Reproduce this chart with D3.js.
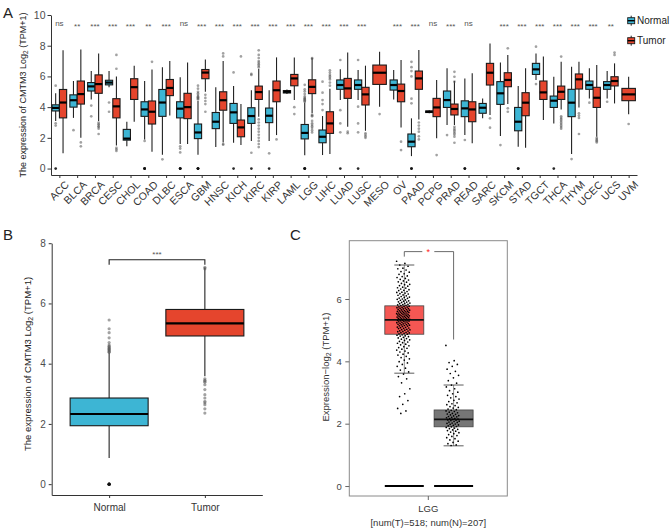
<!DOCTYPE html>
<html><head><meta charset="utf-8">
<script src="https://cdn.jsdelivr.net/npm/d3@7"></script>
<style>body{margin:0;background:#fff} svg{font-family:"Liberation Sans",Arial,sans-serif}</style>
</head><body><svg id="c" width="670" height="530"></svg>
<script>
// ---------- Panel A data ----------
const cancers = ["ACC","BLCA","BRCA","CESC","CHOL","COAD","DLBC","ESCA","GBM","HNSC","KICH","KIRC","KIRP","LAML","LGG","LIHC","LUAD","LUSC","MESO","OV","PAAD","PCPG","PRAD","READ","SARC","SKCM","STAD","TGCT","THCA","THYM","UCEC","UCS","UVM"];
const sigLabels = ["ns","**","***","***","***","**","***","ns","***","***","***","***","***","***","***","***","***","***","","***","***","ns","***","ns","","***","***","***","***","***","***","**",""];
// [lower whisker, Q1, median, Q3, upper whisker]
const normalStats = [
 [3.1,3.75,3.95,4.15,4.9],[3.3,4.0,4.45,4.8,5.7],[4.5,5.05,5.35,5.6,6.35],[5.3,5.45,5.6,5.75,6.35],
 [1.45,1.85,1.95,2.55,3.05],[1.9,3.4,3.85,4.35,5.7],[0.9,3.4,4.3,5.15,6.6],[1.6,3.3,3.9,4.35,5.95],
 [0.9,1.95,2.35,2.9,4.4],[1.4,2.6,3.05,3.65,5.3],[1.68,2.94,3.66,4.24,5.37],[1.8,2.94,3.42,3.96,5.1],
 [1.8,2.99,3.44,3.94,5.1],[4.85,4.92,5.0,5.08,5.15],[0.87,1.93,2.32,2.87,4.3],[0.88,1.68,2.07,2.51,3.42],
 [4.46,5.16,5.44,5.77,6.46],[4.46,5.16,5.44,5.77,6.42],null,[4.5,5.11,5.44,5.77,6.42],
 [0.81,1.42,1.75,2.25,3.27],[3.6,3.65,3.7,3.75,3.8],[2.83,3.98,4.46,5.05,6.53],[2.18,3.38,3.92,4.41,5.87],
 [3.27,3.6,3.96,4.24,4.57],[2.12,4.18,4.9,5.66,6.9],[1.42,2.46,3.05,3.98,5.37],[5.77,6.13,6.46,6.85,7.5],
 [2.94,3.98,4.42,4.72,5.98],[0.94,3.38,4.29,5.16,6.63],[4.57,5.16,5.44,5.7,6.53],[4.57,5.16,5.44,5.66,6.35],null];
const normalOutliers = [
 [5.4,2.95,2.8,0],[2.5],[4.1,3.4],[4.3,3.7],[],[1.8,0,0,0],[0.6],[1.45,1.3,1.05,0,0,0],
 [5.4,5.2,5.0,4.9,4.8,4.7,4.65,4.6,4.55,4.5,0,0,0],[],[6.26,0],[6.16,6.1,1.03,0],[0.99,0],[],
 [5.45,5.16,5.03,4.86,4.7,4.6,4.55,4.5,4.45,4.4,4.35,0,0,0],[5.66,4.94,4.46,4.2,3.81],[7.07,3.8,2.94,2.36,0],[7.07,4.03,2.94,2.36,0],
 [],[],[6.95,6.6,6.35,6.0,4.55,4.25,0,0],[],[2.18],[1.86,0,0],[],[1.53],[0,0],[7.94,5.5],[0],[0.62],[4.29],[4.35],[]];
const tumorStats = [
 [1.0,3.3,4.3,5.15,7.7],[2.0,4.2,4.85,5.7,7.75],[3.1,4.9,5.5,6.1,7.5],[1.5,3.3,4.05,4.55,6.0],
 [3.05,4.5,5.3,5.85,6.7],[1.1,2.9,3.7,4.4,6.45],[3.45,4.75,5.25,5.8,7.0],[1.6,3.25,4.0,4.9,6.9],
 [5.0,5.85,6.25,6.45,7.1],[1.7,3.8,4.45,5.0,7.0],[1.53,2.07,2.68,3.16,4.2],[3.38,4.5,4.98,5.37,6.5],
 [2.18,4.35,5.1,5.7,7.24],[4.46,5.39,5.87,6.13,7.24],[3.6,4.88,5.32,5.78,7.2],[0.94,2.29,2.94,3.7,5.2],
 [2.72,4.57,5.22,5.87,7.55],[2.46,4.14,4.83,5.29,6.7],[4.03,5.48,6.24,6.74,7.61],[2.68,4.35,5.05,5.5,7.07],
 [3.2,5.16,5.87,6.35,7.72],[1.97,3.38,3.98,4.57,5.77],[2.83,3.49,3.88,4.2,5.7],[1.64,3.05,3.85,4.35,6.2],
 [3.49,5.44,6.24,6.85,8.15],[4.2,5.33,5.77,6.24,7.39],[1.36,3.44,4.29,4.94,6.53],[3.16,4.5,4.96,5.7,7.29],
 [3.85,4.5,5.0,5.37,6.96],[3.98,5.18,5.81,6.16,6.96],[2.07,3.98,4.61,5.29,6.74],[4.24,5.38,5.7,5.98,6.85],[3.53,4.42,4.83,5.22,5.98]];
const tumorOutliers = [
 [],[1.7,1.45],[3.0,2.9,2.85,2.75,2.7,2.6,2.25],[7.4,6.5,1.35,1.25,1.15],[],[6.95],[],[],
 [4.8,4.6,4.4,4.2,3.7],[7.5,7.3,1.6,1.55],[7.3],[7.7,7.4,7.2,7.0,6.9,6.8,6.7,6.6,3.2,3.0,2.8,2.6,2.4,2.2,2.0,1.8,1.6,1.4],
 [1.9],[4.0,3.55],[7.2,7.15,3.5,3.45,3.4,3.1,2.95,2.85,2.75,2.65,2.5,2.35],[6.4,6.25,6.1,6.0,5.9,5.8,5.6,5.4],
 [2.4,2.3],[2.3,2.2,2.1,2.0],[3.55],[1.75,1.2],[3.0,2.8,2.6,2.4,2.1,1.9],[0.88],
 [6.3,5.98,5.66,2.72,2.6,2.5,2.4,2.3,2.2,2.07,1.68],[],[3.27,2.66],[7.83,3.92,3.7],[],[],
 [7.29,3.4,3.3,3.2,3.1,3.0,2.9,2.8,2.7,2.6],[3.6,3.45,3.3,2.25],[2.0,1.92,1.85,1.78,1.7],[7.55,7.4],[2.9]];
const groups = ["Normal","Tumor"];
const yTicksA = [0,2,4,6,8,10];

// ---------- Panel B data (LGG, TCGA+GTEx) ----------
const bGroups = ["Normal","Tumor"];
const bStats = [[0.87,1.94,2.33,2.86,4.36],[3.58,4.92,5.34,5.8,7.19]];
const bOutliers = [
 [5.45,5.16,5.03,4.86,4.7,4.62,4.58,4.55,4.52,4.5,4.47,4.45,4.42,4.4,4.38,0,0,0],
 [7.2,7.15,3.5,3.45,3.42,3.38,3.3,3.14,2.97,2.86,2.75,2.7,2.64,2.5,2.36]];
const bTicks = [0,2,4,6,8];

// ---------- Panel C data (GEPIA, LGG) ----------
const cCategory = ["LGG"];
const cTumorStats = [3.62,4.87,5.33,5.78,7.09];
const cNormalStats = [1.29,1.9,2.14,2.44,3.24];
const cTicks = [0,2,4,6];
const cTumorPoints = [7.21,7.14,7.09,7.05,6.99,6.97,6.93,6.88,6.86,6.81,6.79,6.74,6.72,6.69,6.66,6.63,6.61,6.58,6.55,6.54,6.5,6.47,6.46,6.43,6.41,6.38,6.36,6.35,6.32,6.3,6.28,6.27,6.24,6.22,6.21,6.19,6.17,6.16,6.13,6.12,6.1,6.08,6.06,6.05,6.03,6.02,6.0,5.99,5.97,5.96,5.94,5.93,5.91,5.9,5.89,5.87,5.86,5.85,5.83,5.82,5.81,5.8,5.79,5.77,5.76,5.75,5.74,5.73,5.72,5.71,5.7,5.69,5.68,5.67,5.66,5.65,5.64,5.63,5.62,5.61,5.6,5.6,5.59,5.58,5.57,5.56,5.55,5.55,5.54,5.53,5.52,5.51,5.5,5.5,5.49,5.48,5.47,5.46,5.45,5.45,5.44,5.43,5.42,5.41,5.4,5.4,5.39,5.38,5.37,5.36,5.35,5.35,5.34,5.33,5.32,5.31,5.3,5.3,5.29,5.28,5.27,5.26,5.25,5.24,5.23,5.22,5.21,5.2,5.19,5.18,5.17,5.16,5.15,5.14,5.13,5.12,5.1,5.09,5.08,5.07,5.06,5.05,5.03,5.02,5.01,5.0,4.98,4.97,4.96,4.95,4.93,4.92,4.91,4.9,4.88,4.87,4.85,4.84,4.82,4.81,4.79,4.77,4.75,4.73,4.71,4.69,4.67,4.64,4.62,4.6,4.58,4.55,4.53,4.5,4.47,4.44,4.42,4.39,4.36,4.33,4.3,4.27,4.23,4.2,4.16,4.12,4.08,4.04,3.99,3.95,3.9,3.84,3.78,3.72,3.66,3.59,3.51,3.44,3.31,3.12,2.96,2.87,2.74,2.62,2.49,2.41,2.33];
const cNormalPoints = [4.51,4.02,3.96,3.9,3.84,3.75,3.68,3.61,3.55,3.47,3.38,3.3,3.24,3.18,3.12,3.06,3.01,2.96,2.91,2.87,2.83,2.79,2.75,2.71,2.67,2.64,2.61,2.58,2.55,2.52,2.5,2.47,2.45,2.43,2.41,2.39,2.37,2.35,2.33,2.31,2.3,2.28,2.26,2.25,2.23,2.22,2.2,2.19,2.17,2.16,2.15,2.14,2.12,2.11,2.1,2.08,2.07,2.05,2.04,2.02,2.01,1.99,1.98,1.96,1.95,1.93,1.91,1.9,1.88,1.86,1.84,1.82,1.8,1.78,1.76,1.73,1.71,1.68,1.65,1.62,1.59,1.55,1.52,1.48,1.44,1.4,1.36,1.32,1.3];

const colN = "#3db5d4", colT = "#e5452d";
const FONT = "Liberation Sans, Arial, sans-serif";
const svg = d3.select("#c");

function styleAxis(ax, size, col) {
  ax.attr("font-family", FONT).attr("font-size", size);
  ax.select(".domain").attr("stroke", "#333").attr("stroke-width", 1);
  ax.selectAll(".tick line").attr("stroke", "#333");
  ax.selectAll(".tick text").attr("fill", col);
}
function ggBox(g, cx, w, s, y, fill, outs, r) {
  g.append("line").attr("x1", cx).attr("x2", cx).attr("y1", y(s[0])).attr("y2", y(s[1])).attr("stroke", "#222").attr("stroke-width", 1.1);
  g.append("line").attr("x1", cx).attr("x2", cx).attr("y1", y(s[3])).attr("y2", y(s[4])).attr("stroke", "#222").attr("stroke-width", 1.1);
  g.append("rect").attr("x", cx - w/2).attr("y", y(s[3])).attr("width", w).attr("height", Math.max(1.5, y(s[1]) - y(s[3])))
    .attr("fill", fill).attr("stroke", "#1a1a1a").attr("stroke-width", 1.1);
  g.append("line").attr("x1", cx - w/2).attr("x2", cx + w/2).attr("y1", y(s[2])).attr("y2", y(s[2])).attr("stroke", "#000").attr("stroke-width", 2.2);
  g.selectAll(null).data(outs).enter().append("circle")
    .attr("cx", cx).attr("cy", d => y(d)).attr("r", r)
    .attr("fill", d => d === 0 ? "#111" : "#555").attr("fill-opacity", d => d === 0 ? 0.9 : 0.55);
}

// ================= Panel A =================
const gA = svg.append("g");
const xA = d3.scalePoint().domain(cancers).range([51, 637]).padding(0.47);
const yA = d3.scaleLinear().domain([-0.42, 10]).range([175, 15]);
const dodge = d3.scaleBand().domain(groups).range([-7.3, 7.3]).paddingInner(0.02);

const axYA = gA.append("g").attr("transform", "translate(51,0)")
  .call(d3.axisLeft(yA).tickValues(yTicksA).tickSize(3.5).tickSizeOuter(0));
styleAxis(axYA, 10.5, "#4d4d4d");
axYA.selectAll(".tick text").attr("x", -5.5);
const axXA = gA.append("g").attr("transform", "translate(0,175)")
  .call(d3.axisBottom(xA).tickSize(3).tickSizeOuter(0));
styleAxis(axXA, 10.5, "#333");
axXA.selectAll(".tick text").attr("text-anchor", "end").attr("x", 0).attr("y", 0).attr("dy", "0.72em")
  .attr("transform", "translate(4.5,5) rotate(-45)");

cancers.forEach((c, i) => {
  const items = [["Normal", normalStats[i], normalOutliers[i], colN], ["Tumor", tumorStats[i], tumorOutliers[i], colT]].filter(d => d[1]);
  items.forEach(([grp, s, o, col]) => {
    const single = items.length === 1;
    const cx = single ? xA(c) : xA(c) + dodge(grp) + dodge.bandwidth()/2;
    const w = single ? 13.5 : dodge.bandwidth();
    ggBox(gA, cx, w, s, yA, col, o, 1.35);
  });
  if (sigLabels[i]) {
    gA.append("text").attr("x", xA(c)).attr("y", sigLabels[i] === "ns" ? 26 : 28.6)
      .attr("text-anchor", "middle").attr("font-size", 8).attr("fill", "#555").text(sigLabels[i]);
  }
});
// y title A
gA.append("text").attr("transform", "translate(26,95) rotate(-90)").attr("text-anchor", "middle")
  .attr("font-size", 9).attr("fill", "#222")
  .html('The expression of CMTM3 Log<tspan font-size="6.5" dy="2">2</tspan><tspan dy="-2"> (TPM+1)</tspan>');
// legend A
const legA = gA.append("g");
[["Normal", colN, 20.7], ["Tumor", colT, 40.7]].forEach(([lab, col, yy]) => {
  legA.append("line").attr("x1", 631.2).attr("x2", 631.2).attr("y1", yy - 5).attr("y2", yy + 5).attr("stroke", "#222").attr("stroke-width", 1);
  legA.append("rect").attr("x", 627.7).attr("y", yy - 3).attr("width", 7).attr("height", 6).attr("fill", col).attr("stroke", "#1a1a1a").attr("stroke-width", 0.9);
  legA.append("line").attr("x1", 627.7).attr("x2", 634.7).attr("y1", yy).attr("y2", yy).attr("stroke", "#000").attr("stroke-width", 1.4);
  legA.append("text").attr("x", 637).attr("y", yy).attr("dy", "0.35em").attr("font-size", 10).attr("fill", "#222").text(lab);
});
svg.append("text").attr("x", 3).attr("y", 18).attr("font-size", 15).attr("fill", "#222").text("A");

// ================= Panel B =================
const gB = svg.append("g");
const xB = d3.scalePoint().domain(bGroups).range([51.7, 262.3]).padding(0.6);
const yB = d3.scaleLinear().domain([-0.36, 8]).range([495, 243.2]);
const axYB = gB.append("g").attr("transform", "translate(51.7,0)")
  .call(d3.axisLeft(yB).tickValues(bTicks).tickSize(3).tickSizeOuter(0));
styleAxis(axYB, 10, "#4d4d4d");
axYB.selectAll(".tick text").attr("x", -6);
const axXB = gB.append("g").attr("transform", "translate(0,495)")
  .call(d3.axisBottom(xB).tickSize(3).tickSizeOuter(0));
styleAxis(axXB, 10, "#333");
axXB.selectAll(".tick text").attr("y", 8.5);
bGroups.forEach((grp, i) => ggBox(gB, xB(grp), 78, bStats[i], yB, i ? colT : colN, bOutliers[i], 1.6));
// significance bracket
const brY = yB(7.45);
gB.append("path").attr("d", `M${xB("Normal")},${brY + 5}V${brY}H${xB("Tumor")}V${brY + 5}`)
  .attr("fill", "none").attr("stroke", "#222").attr("stroke-width", 1.1);
gB.append("text").attr("x", (xB("Normal") + xB("Tumor"))/2).attr("y", brY - 2.5).attr("text-anchor", "middle")
  .attr("font-size", 8).attr("fill", "#555").text("***");
gB.append("text").attr("transform", "translate(31,364) rotate(-90)").attr("text-anchor", "middle")
  .attr("font-size", 9.5).attr("fill", "#222")
  .html('The expression of CMTM3 Log<tspan font-size="7" dy="2">2</tspan><tspan dy="-2"> (TPM+1)</tspan>');
svg.append("text").attr("x", 3).attr("y", 240).attr("font-size", 15).attr("fill", "#222").text("B");

// ================= Panel C =================
const gC = svg.append("g");
const xC = d3.scaleBand().domain(cCategory).range([349.3, 507.3]);
const yC = d3.scaleLinear().domain([-0.32, 7.87]).range([496, 240.7]);
gC.append("rect").attr("x", 349.3).attr("y", 240.7).attr("width", 158).attr("height", 255.3)
  .attr("fill", "none").attr("stroke", "#8a8a8a").attr("stroke-width", 1);
const axYC = gC.append("g").attr("transform", "translate(349.3,0)")
  .call(d3.axisLeft(yC).tickValues(cTicks).tickSize(4).tickSizeOuter(0));
styleAxis(axYC, 9.5, "#444");
axYC.select(".domain").remove();
axYC.selectAll(".tick line").attr("stroke", "#666");
axYC.selectAll(".tick text").attr("x", -7.5);
const cx0 = xC("LGG") + xC.bandwidth()/2;
gC.append("line").attr("x1", cx0).attr("x2", cx0).attr("y1", 496).attr("y2", 500).attr("stroke", "#666");
gC.append("text").attr("x", cx0).attr("y", 511.5).attr("text-anchor", "middle").attr("font-size", 9.5).attr("fill", "#333").text("LGG");
gC.append("text").attr("x", cx0).attr("y", 526).attr("text-anchor", "middle").attr("font-size", 9.5).attr("fill", "#333").text("[num(T)=518; num(N)=207]");
const cBoxes = [[cx0 - 24, cTumorStats, "#f55753", cTumorPoints], [cx0 + 25.3, cNormalStats, "#767676", cNormalPoints]];
cBoxes.forEach(([cx, s, col, pts]) => {
  const w = 39;
  gC.append("line").attr("x1", cx - w/2).attr("x2", cx + w/2).attr("y1", yC(0)).attr("y2", yC(0)).attr("stroke", "#000").attr("stroke-width", 1.8);
  gC.append("line").attr("x1", cx).attr("x2", cx).attr("y1", yC(s[0])).attr("y2", yC(s[4])).attr("stroke", "#444").attr("stroke-width", 0.6);
  [s[0], s[4]].forEach(v => gC.append("line").attr("x1", cx - 10).attr("x2", cx + 10).attr("y1", yC(v)).attr("y2", yC(v)).attr("stroke", "#333").attr("stroke-width", 0.8));
  gC.append("rect").attr("x", cx - w/2).attr("y", yC(s[3])).attr("width", w).attr("height", yC(s[1]) - yC(s[3]))
    .attr("fill", col).attr("stroke", "#444").attr("stroke-width", 0.8);
  gC.append("line").attr("x1", cx - w/2).attr("x2", cx + w/2).attr("y1", yC(s[2])).attr("y2", yC(s[2])).attr("stroke", "#111").attr("stroke-width", 1.8);
  gC.selectAll(null).data(pts).enter().append("circle")
    .attr("cx", (d, i) => cx - 1 + (((i * 0.6180339887) % 1) - 0.5) * 13.4)
    .attr("cy", d => yC(d)).attr("r", 0.85).attr("fill", "#000");
});
// bracket and star
const tX = cBoxes[0][0], nX = cBoxes[1][0], bY = yC(7.52);
gC.append("path").attr("d", `M${tX},${bY + 5}V${bY}H${cx0 - 6}M${cx0 + 6},${bY}H${nX}V${yC(4.7)}`)
  .attr("fill", "none").attr("stroke", "#444").attr("stroke-width", 0.8);
gC.append("text").attr("x", cx0).attr("y", bY + 3.5).attr("text-anchor", "middle").attr("font-size", 9).attr("fill", "#ff2020").text("*");
gC.append("text").attr("transform", "translate(329,367) rotate(-90)").attr("text-anchor", "middle")
  .attr("font-size", 9.5).attr("fill", "#333")
  .html('Expression\u2212log<tspan font-size="7" dy="2">2</tspan><tspan dy="-2"> (TPM+1)</tspan>');
svg.append("text").attr("x", 290).attr("y", 240).attr("font-size", 15).attr("fill", "#222").text("C");
</script></body></html>
